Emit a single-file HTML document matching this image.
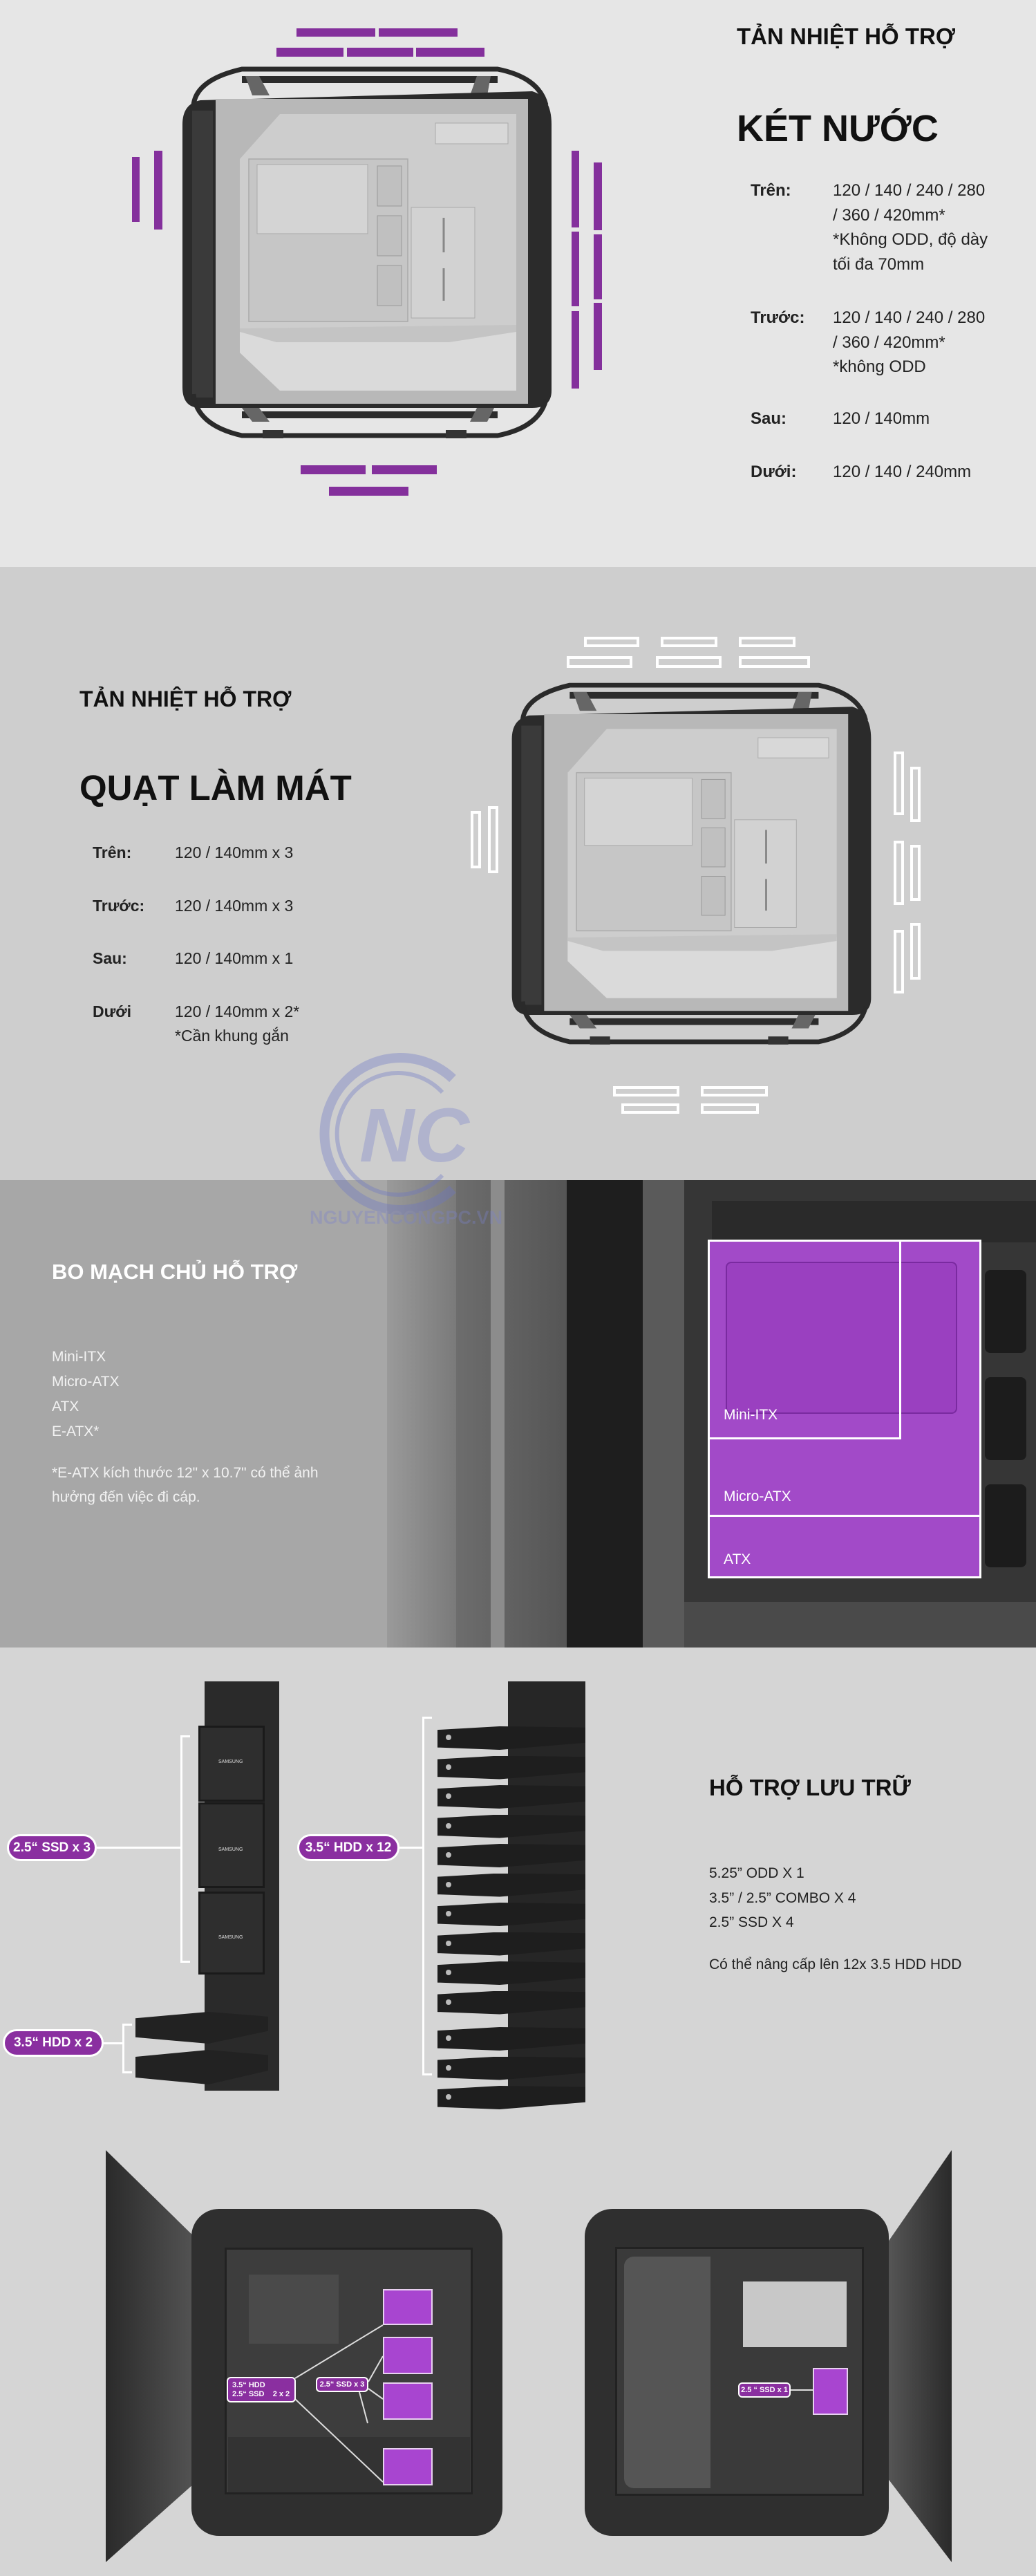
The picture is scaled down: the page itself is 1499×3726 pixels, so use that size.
<!DOCTYPE html>
<html><head><meta charset="utf-8">
<style>
*{margin:0;padding:0;box-sizing:border-box}
body{width:1499px;height:3726px;position:relative;overflow:hidden;font-family:"Liberation Sans","Noto Sans CJK SC",sans-serif;background:#d5d5d5}
.a{position:absolute}
.t{position:absolute;white-space:nowrap;line-height:1}
.pb{position:absolute;background:#84309c}
.wb{position:absolute;border:4px solid #fff}
.pill{position:absolute;background:#8a2fa0;border:3px solid #fff;border-radius:22px;color:#fff;font-weight:bold;display:flex;align-items:center;justify-content:center;white-space:nowrap}
.pbox{position:absolute;background:#a845d0;border:2px solid #e8d0f0}
</style></head><body>
<svg width="0" height="0" style="position:absolute">
<defs>
<g id="case">
 <path d="M30,62 Q34,25 100,10 L470,10 Q530,22 540,62" fill="none" stroke="#2a2a2a" stroke-width="7"/>
 <rect x="100" y="20" width="370" height="10" fill="#2c2c2c"/>
 <path d="M105,20 L125,20 L140,48 L115,48Z" fill="#666"/>
 <path d="M440,20 L460,20 L455,48 L430,48Z" fill="#666"/>
 <path d="M40,55 L520,42 Q548,50 548,90 L548,475 Q548,500 520,500 L40,500 Q14,500 14,470 L14,90 Q14,60 40,55Z" fill="#2b2b2b"/>
 <rect x="28" y="70" width="30" height="415" fill="#3a3a3a"/>
 <rect x="62" y="53" width="452" height="441" fill="#b8b8b8"/>
 <path d="M155,75 L497,75 L497,475 L155,475 L97,420 L97,140Z" fill="#cdcdcd"/>
 <rect x="110" y="140" width="230" height="235" fill="#c6c6c6" stroke="#aaa" stroke-width="1.5"/>
 <rect x="122" y="148" width="160" height="100" fill="#d4d4d4" stroke="#aaa"/>
 <rect x="296" y="150" width="35" height="58" fill="#c0c0c0" stroke="#999"/>
 <rect x="296" y="222" width="35" height="58" fill="#c0c0c0" stroke="#999"/>
 <rect x="296" y="294" width="35" height="58" fill="#c0c0c0" stroke="#999"/>
 <rect x="345" y="210" width="92" height="160" fill="#d2d2d2" stroke="#aaa"/>
 <line x1="392" y1="225" x2="392" y2="275" stroke="#888" stroke-width="3"/>
 <line x1="392" y1="298" x2="392" y2="345" stroke="#888" stroke-width="3"/>
 <rect x="380" y="88" width="105" height="30" fill="#d8d8d8" stroke="#aaa"/>
 <path d="M97,385 L497,385 L497,475 L155,475 L97,420Z" fill="#dadada"/>
 <path d="M97,385 L497,380 L497,390 L400,405 L150,405 L97,390Z" fill="#c4c4c4"/>
 <path d="M30,480 Q34,525 100,540 L470,540 Q530,528 540,488" fill="none" stroke="#2a2a2a" stroke-width="7"/>
 <rect x="100" y="505" width="370" height="10" fill="#2c2c2c"/>
 <path d="M100,500 L125,500 L140,520 L115,520Z" fill="#666"/>
 <path d="M440,500 L465,500 L455,520 L430,520Z" fill="#666"/>
 <rect x="130" y="532" width="30" height="12" fill="#333"/>
 <rect x="395" y="532" width="30" height="12" fill="#333"/>
</g>
</defs>
</svg>

<!-- SECTION 1 -->
<div class="a" style="left:0;top:0;width:1499px;height:820px;background:#e6e6e6"></div>
<svg class="a" style="left:250px;top:90px" width="560" height="590" viewBox="0 0 560 590"><use href="#case"/></svg>
<div class="pb" style="left:429px;top:41px;width:114px;height:12px"></div>
<div class="pb" style="left:548px;top:41px;width:114px;height:12px"></div>
<div class="pb" style="left:400px;top:69px;width:97px;height:13px"></div>
<div class="pb" style="left:502px;top:69px;width:96px;height:13px"></div>
<div class="pb" style="left:602px;top:69px;width:99px;height:13px"></div>
<div class="pb" style="left:191px;top:227px;width:11px;height:94px"></div>
<div class="pb" style="left:223px;top:218px;width:12px;height:114px"></div>
<div class="pb" style="left:827px;top:218px;width:11px;height:111px"></div>
<div class="pb" style="left:827px;top:335px;width:11px;height:108px"></div>
<div class="pb" style="left:827px;top:450px;width:11px;height:112px"></div>
<div class="pb" style="left:859px;top:235px;width:12px;height:98px"></div>
<div class="pb" style="left:859px;top:339px;width:12px;height:94px"></div>
<div class="pb" style="left:859px;top:438px;width:12px;height:97px"></div>
<div class="pb" style="left:435px;top:673px;width:94px;height:13px"></div>
<div class="pb" style="left:538px;top:673px;width:94px;height:13px"></div>
<div class="pb" style="left:476px;top:704px;width:115px;height:13px"></div>

<div class="t" style="left:1066px;top:36px;font-size:33px;font-weight:bold;color:#111">TẢN NHIỆT HỖ TRỢ</div>
<div class="t" style="left:1066px;top:159px;font-size:54px;font-weight:bold;color:#111">KÉT NƯỚC</div>
<div style="position:absolute;left:1086px;top:258px;font-size:24px;color:#222;line-height:35.5px">
 <div class="a" style="left:0;top:0;font-weight:bold">Trên:</div>
 <div class="a" style="left:119px;top:0;white-space:nowrap">120 / 140 / 240 / 280<br>/ 360 / 420mm*<br>*Không ODD, độ dày<br>tối đa 70mm</div>
 <div class="a" style="left:0;top:184px;font-weight:bold">Trước:</div>
 <div class="a" style="left:119px;top:184px;white-space:nowrap">120 / 140 / 240 / 280<br>/ 360 / 420mm*<br>*không ODD</div>
 <div class="a" style="left:0;top:330px;font-weight:bold">Sau:</div>
 <div class="a" style="left:119px;top:330px;white-space:nowrap">120 / 140mm</div>
 <div class="a" style="left:0;top:407px;font-weight:bold">Dưới:</div>
 <div class="a" style="left:119px;top:407px;white-space:nowrap">120 / 140 / 240mm</div>
</div>

<!-- SECTION 2 -->
<div class="a" style="left:0;top:820px;width:1499px;height:887px;background:#cecece"></div>
<svg class="a" style="left:727px;top:981px" width="545" height="575" viewBox="0 0 560 590"><use href="#case"/></svg>
<div class="wb" style="left:845px;top:921px;width:80px;height:15px"></div>
<div class="wb" style="left:956px;top:921px;width:82px;height:15px"></div>
<div class="wb" style="left:1069px;top:921px;width:82px;height:15px"></div>
<div class="wb" style="left:820px;top:949px;width:95px;height:17px"></div>
<div class="wb" style="left:949px;top:949px;width:95px;height:17px"></div>
<div class="wb" style="left:1069px;top:949px;width:103px;height:17px"></div>
<div class="wb" style="left:887px;top:1571px;width:96px;height:15px"></div>
<div class="wb" style="left:1014px;top:1571px;width:97px;height:15px"></div>
<div class="wb" style="left:899px;top:1596px;width:84px;height:15px"></div>
<div class="wb" style="left:1014px;top:1596px;width:84px;height:15px"></div>
<div class="wb" style="left:681px;top:1173px;width:15px;height:83px"></div>
<div class="wb" style="left:706px;top:1166px;width:15px;height:97px"></div>
<div class="wb" style="left:1293px;top:1087px;width:15px;height:92px"></div>
<div class="wb" style="left:1317px;top:1109px;width:15px;height:80px"></div>
<div class="wb" style="left:1293px;top:1216px;width:15px;height:93px"></div>
<div class="wb" style="left:1317px;top:1222px;width:15px;height:81px"></div>
<div class="wb" style="left:1293px;top:1345px;width:15px;height:92px"></div>
<div class="wb" style="left:1317px;top:1335px;width:15px;height:82px"></div>

<div class="t" style="left:115px;top:995px;font-size:32px;font-weight:bold;color:#111">TẢN NHIỆT HỖ TRỢ</div>
<div class="t" style="left:115px;top:1114px;font-size:51px;font-weight:bold;color:#111">QUẠT LÀM MÁT</div>
<div style="position:absolute;left:134px;top:1216px;font-size:23px;color:#222;line-height:35px">
 <div class="a" style="left:0;top:0;font-weight:bold">Trên:</div><div class="a" style="left:119px;top:0;white-space:nowrap">120 / 140mm x 3</div>
 <div class="a" style="left:0;top:77px;font-weight:bold">Trước:</div><div class="a" style="left:119px;top:77px;white-space:nowrap">120 / 140mm x 3</div>
 <div class="a" style="left:0;top:153px;font-weight:bold">Sau:</div><div class="a" style="left:119px;top:153px;white-space:nowrap">120 / 140mm x 1</div>
 <div class="a" style="left:0;top:230px;font-weight:bold">Dưới</div><div class="a" style="left:119px;top:230px;white-space:nowrap">120 / 140mm x 2*<br>*Cần khung gắn</div>
</div>

<!-- SECTION 3 -->
<div class="a" style="left:0;top:1707px;width:560px;height:676px;background:#a7a7a7"></div>
<div class="a" style="left:560px;top:1707px;width:939px;height:676px;background:#2a2a2a;overflow:hidden">
 <div class="a" style="left:0;top:0;width:100px;height:676px;background:linear-gradient(90deg,#9a9a9a,#7a7a7a)"></div>
 <div class="a" style="left:100px;top:0;width:160px;height:676px;background:linear-gradient(90deg,#6d6d6d,#555)"></div>
 <div class="a" style="left:150px;top:0;width:20px;height:676px;background:#8c8c8c"></div>
 <div class="a" style="left:260px;top:0;width:110px;height:676px;background:#1e1e1e"></div>
 <div class="a" style="left:370px;top:0;width:60px;height:676px;background:#5a5a5a"></div>
 <div class="a" style="left:430px;top:0;width:509px;height:676px;background:#363636"></div>
 <div class="a" style="left:470px;top:30px;width:469px;height:60px;background:#2a2a2a"></div>
 <div class="a" style="left:430px;top:610px;width:509px;height:66px;background:#4a4a4a"></div>
 <div class="a" style="left:865px;top:130px;width:60px;height:120px;background:#1c1c1c;border-radius:8px"></div>
 <div class="a" style="left:865px;top:285px;width:60px;height:120px;background:#1c1c1c;border-radius:8px"></div>
 <div class="a" style="left:865px;top:440px;width:60px;height:120px;background:#1c1c1c;border-radius:8px"></div>
</div>
<div class="a" style="left:1027px;top:1796px;width:392px;height:486px;background:#a24ac8"></div>
<div class="a" style="left:1050px;top:1825px;width:335px;height:220px;background:#9a40c0;border:2px solid #7a2aa0;border-radius:8px"></div>
<div class="a" style="left:1024px;top:1793px;width:396px;height:490px;border:3px solid #fff"></div>
<div class="a" style="left:1024px;top:1793px;width:280px;height:289px;border:3px solid #fff"></div>
<div class="a" style="left:1024px;top:1793px;width:396px;height:401px;border:3px solid #fff"></div>
<div class="t" style="left:1047px;top:2036px;font-size:21px;color:#fff">Mini-ITX</div>
<div class="t" style="left:1047px;top:2154px;font-size:21px;color:#fff">Micro-ATX</div>
<div class="t" style="left:1047px;top:2245px;font-size:21px;color:#fff">ATX</div>

<div class="t" style="left:75px;top:1824px;font-size:31px;font-weight:bold;color:#fff">BO MẠCH CHỦ HỖ TRỢ</div>
<div style="position:absolute;left:75px;top:1945px;font-size:21px;color:#f2f2f2;line-height:36px;white-space:nowrap">Mini-ITX<br>Micro-ATX<br>ATX<br>E-ATX*</div>
<div style="position:absolute;left:75px;top:2113px;font-size:21px;color:#f2f2f2;line-height:35px;white-space:nowrap">*E-ATX kích thước 12" x 10.7" có thể ảnh<br>hưởng đến việc đi cáp.</div>

<!-- watermark -->
<svg class="a" style="left:440px;top:1520px" width="320" height="260" viewBox="0 0 320 260" opacity="0.35">
 <path d="M215,40 A110,110 0 1 0 215,200" fill="none" stroke="#6a74c8" stroke-width="14"/>
 <path d="M200,60 A88,88 0 1 0 200,180" fill="none" stroke="#6a74c8" stroke-width="6"/>
 <text x="80" y="160" font-family="Liberation Sans" font-weight="bold" font-style="italic" font-size="110" fill="#7a82cc">NC</text>
 <text x="8" y="250" font-family="Liberation Sans" font-weight="bold" font-size="27" fill="#7a82cc">NGUYENCONGPC.VN</text>
</svg>

<!-- SECTION 4 -->
<div class="a" style="left:0;top:2383px;width:1499px;height:1343px;background:#d5d5d5"></div>
<!-- left rack -->
<div class="a" style="left:296px;top:2432px;width:108px;height:592px;background:#2a2a2a"></div>
<div class="a" style="left:287px;top:2496px;width:96px;height:110px;background:#2e2e2e;border:3px solid #1a1a1a"></div>
<div class="a" style="left:287px;top:2607px;width:96px;height:124px;background:#2e2e2e;border:3px solid #1a1a1a"></div>
<div class="a" style="left:287px;top:2736px;width:96px;height:120px;background:#2e2e2e;border:3px solid #1a1a1a"></div>
<div class="t" style="left:316px;top:2545px;font-size:7px;color:#ddd">SAMSUNG</div>
<div class="t" style="left:316px;top:2672px;font-size:7px;color:#ddd">SAMSUNG</div>
<div class="t" style="left:316px;top:2799px;font-size:7px;color:#ddd">SAMSUNG</div>
<div class="a" style="left:196px;top:2910px;width:192px;height:46px;background:#222;clip-path:polygon(0 20%,55% 0,100% 15%,100% 60%,55% 100%,0 80%)"></div>
<div class="a" style="left:196px;top:2965px;width:192px;height:50px;background:#222;clip-path:polygon(0 20%,55% 0,100% 15%,100% 60%,55% 100%,0 80%)"></div>
<!-- brackets -->
<div class="a" style="left:261px;top:2510px;width:14px;height:329px;border:3px solid #fff;border-right:none"></div>
<div class="a" style="left:140px;top:2671px;width:121px;height:3px;background:#fff"></div>
<div class="pill" style="left:10px;top:2653px;width:130px;height:39px;font-size:19px">2.5“ SSD x 3</div>
<div class="a" style="left:177px;top:2927px;width:14px;height:72px;border:3px solid #fff;border-right:none"></div>
<div class="a" style="left:149px;top:2954px;width:28px;height:3px;background:#fff"></div>
<div class="pill" style="left:4px;top:2935px;width:146px;height:40px;font-size:19px">3.5“ HDD x 2</div>
<!-- middle rack -->
<div class="a" style="left:735px;top:2432px;width:112px;height:592px;background:#262626"></div>
<div id="trays"></div>
<div class="a" style="left:611px;top:2483px;width:14px;height:519px;border:3px solid #fff;border-right:none"></div>
<div class="a" style="left:577px;top:2671px;width:34px;height:3px;background:#fff"></div>
<div class="pill" style="left:430px;top:2653px;width:148px;height:39px;font-size:19px">3.5“ HDD x 12</div>

<div class="t" style="left:1026px;top:2569px;font-size:33px;font-weight:bold;color:#111">HỖ TRỢ LƯU TRỮ</div>
<div style="position:absolute;left:1026px;top:2692px;font-size:21px;color:#222;line-height:35.5px;white-space:nowrap">5.25” ODD X 1<br>3.5” / 2.5” COMBO X 4<br>2.5” SSD X 4</div>
<div class="t" style="left:1026px;top:2831px;font-size:21px;color:#222">Có thể nâng cấp lên 12x 3.5 HDD HDD</div>

<!-- bottom left case -->
<div class="a" style="left:153px;top:3110px;width:134px;height:596px;background:linear-gradient(90deg,#2a2a2a,#555);clip-path:polygon(0 0,100% 22%,100% 80%,0 100%)"></div>
<div class="a" style="left:277px;top:3195px;width:450px;height:473px;background:#2f2f2f;border-radius:40px"></div>
<div class="a" style="left:325px;top:3251px;width:359px;height:357px;background:#3d3d3d;border:3px solid #222"></div>
<div class="a" style="left:360px;top:3290px;width:130px;height:100px;background:#4a4a4a"></div>
<div class="a" style="left:330px;top:3525px;width:350px;height:80px;background:#333"></div>
<div class="pbox" style="left:554px;top:3311px;width:72px;height:52px"></div>
<div class="pbox" style="left:554px;top:3380px;width:72px;height:54px"></div>
<div class="pbox" style="left:554px;top:3446px;width:72px;height:54px"></div>
<div class="pbox" style="left:554px;top:3541px;width:72px;height:54px"></div>
<svg class="a" style="left:0;top:0" width="1499" height="3726" viewBox="0 0 1499 3726">
 <g stroke="#ddd" stroke-width="2" fill="none">
  <line x1="427" y1="3440" x2="554" y2="3363"/>
  <line x1="427" y1="3470" x2="554" y2="3590"/>
  <line x1="533" y1="3445" x2="554" y2="3408"/>
  <line x1="533" y1="3455" x2="554" y2="3470"/>
  <line x1="520" y1="3460" x2="532" y2="3505"/>
 </g>
</svg>
<div class="pill" style="left:328px;top:3438px;width:100px;height:37px;font-size:11px;border-width:2px;border-radius:6px;line-height:13px;justify-content:flex-start;padding-left:6px">3.5“ HDD<br>2.5“ SSD&nbsp;&nbsp;&nbsp;&nbsp;2 x 2</div>
<div class="pill" style="left:457px;top:3438px;width:76px;height:22px;font-size:11px;border-width:2px;border-radius:6px">2.5“ SSD x 3</div>

<!-- bottom right case -->
<div class="a" style="left:846px;top:3195px;width:440px;height:473px;background:#2f2f2f;border-radius:40px"></div>
<div class="a" style="left:890px;top:3250px;width:360px;height:360px;background:#3a3a3a;border:3px solid #222"></div>
<div class="a" style="left:903px;top:3264px;width:125px;height:335px;background:#555;border-radius:14px 0 0 14px"></div>
<div class="a" style="left:1075px;top:3300px;width:150px;height:95px;background:#c8c8c8"></div>
<div class="a" style="left:1286px;top:3110px;width:91px;height:596px;background:linear-gradient(90deg,#555,#2a2a2a);clip-path:polygon(0 22%,100% 0,100% 100%,0 80%)"></div>
<div class="pbox" style="left:1176px;top:3425px;width:51px;height:68px"></div>
<div class="a" style="left:1143px;top:3456px;width:33px;height:2px;background:#ddd"></div>
<div class="pill" style="left:1068px;top:3446px;width:76px;height:22px;font-size:11px;border-width:2px;border-radius:6px">2.5 “ SSD x 1</div>

<script>
var h='';for(var i=0;i<13;i++){var y=2497+i*42.5+(i>=10?10:0);h+='<div class="a" style="left:633px;top:'+y+'px;width:214px;height:34px;background:#1e1e1e;clip-path:polygon(0 15%,42% 0,100% 5%,100% 70%,42% 100%,0 90%)"></div><div class="a" style="left:645px;top:'+(y+12)+'px;width:8px;height:8px;border-radius:50%;background:#bbb"></div>';}
document.getElementById('trays').outerHTML=h;
</script>
</body></html>
